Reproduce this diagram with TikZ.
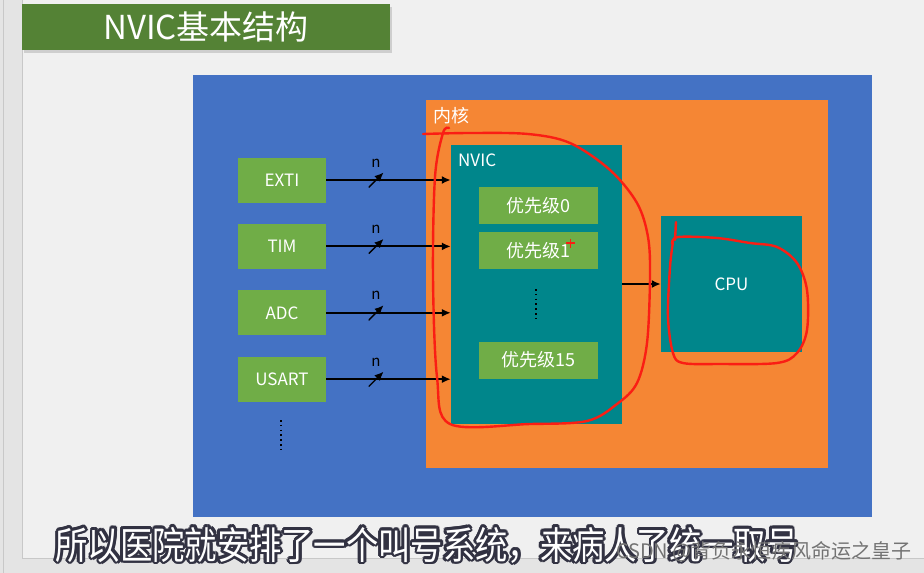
\documentclass[tikz,border=0pt]{standalone}
\usepackage{fontspec}
\setmainfont{Noto Sans CJK SC}
\newfontfamily\subfont[FakeStretch=0.85]{Noto Sans CJK SC}
\usetikzlibrary{arrows.meta,positioning,calc,shadows}
\definecolor{Sside}{RGB}{228,228,228}
\definecolor{Sslide}{RGB}{240,240,240}
\definecolor{Sedge}{RGB}{200,200,200}
\definecolor{Stitle}{RGB}{84,130,53}
\definecolor{Sblue}{RGB}{68,114,196}
\definecolor{Sorange}{RGB}{245,134,52}
\definecolor{Steal}{RGB}{0,134,139}
\definecolor{Sgreen}{RGB}{112,173,71}
\definecolor{Sink}{RGB}{50,50,66}
\definecolor{Pen}{RGB}{250,30,20}
\tikzset{
  panel/.style={draw=none, inner sep=0pt},
  srcbox/.style={panel, fill=Sgreen, text=white, minimum width=88pt, minimum height=45pt, font=\fontsize{17}{20}\selectfont},
  priobox/.style={panel, fill=Sgreen, text=white, minimum width=119pt, minimum height=37pt, font=\fontsize{18}{21}\selectfont},
  lbl/.style={text=white, inner sep=0pt, font=\fontsize{17}{20}\selectfont},
  sig/.style={-{Latex[length=9pt,width=8pt]}, line width=2pt, draw=black},
  slashmark/.style={minimum width=15pt, minimum height=15pt, inner sep=0pt,
    path picture={\draw[line width=1.4pt] (path picture bounding box.south west) -- (path picture bounding box.north east);}},
  busn/.style={inner sep=0pt, font=\fontsize{15}{17}\selectfont},
  vdots/.style={line width=1.6pt, dash pattern=on 1.6pt off 3.2pt},
  redpen/.style={draw=Pen, line width=2.4pt, line cap=round, line join=round},
  subline/.style={inner sep=0pt, font=\subfont\fontsize{38}{42}\selectfont}
}
\begin{document}
\begin{tikzpicture}[x=1pt,y=-1pt]
  \useasboundingbox (0,0) rectangle (924,573);
  % window
  \fill[Sside] (0,0) rectangle (924,573);
  \fill[Sslide] (22,0) rectangle (924,558);
  \draw[Sedge, line width=0.8pt] (22,0) -- (22,558) -- (924,558);
  \draw[Sedge, line width=0.6pt] (3,0) -- (3,573);

  \node[panel, fill=Stitle, text=white, minimum width=368pt, minimum height=46pt,
    drop shadow={shadow xshift=1.5pt, shadow yshift=-2.5pt, opacity=0.3},
    font=\fontsize{33}{36}\selectfont] (title) at (206,27) {NVIC基本结构};

  % containers
  \node[panel, fill=Sblue, minimum width=679pt, minimum height=442pt] (board) at (532.5,296) {};
  \node[panel, fill=Sorange, minimum width=402pt, minimum height=368pt] (core) at (627,284) {};
  \node[lbl, anchor=west, font=\fontsize{18}{21}\selectfont] (corelbl) at (433,116) {内核};
  \node[panel, fill=Steal, minimum width=171pt, minimum height=279pt] (nvic) at (536.5,284.5) {};
  \node[lbl, anchor=west] (nviclbl) at (458,160) {NVIC};
  \node[panel, fill=Steal, text=white, minimum width=141pt, minimum height=136pt,
    font=\fontsize{17}{20}\selectfont] (cpu) at (731.5,284) {CPU};

  % priorities
  \node[priobox] (p0) at (538.5,205.5) {优先级0};
  \node[priobox, below=8pt of p0] (p1) {优先级1};
  \node[priobox] (p15) at (538.5,360) {优先级15};
  \draw[vdots] (536,289) -- (536,322);

  % sources
  \node[srcbox] (exti) at (282,180) {EXTI};
  \node[srcbox, below=21pt of exti] (tim) {TIM};
  \node[srcbox, below=21pt of tim] (adc) {ADC};
  \node[srcbox, below=21pt of adc] (usart) {USART};
  \draw[vdots] (281,420) -- (281,451);

  \draw[sig] (exti) -- node[pos=0.4, slashmark]{} node[pos=0.4, busn, above=12pt]{n} (exti -| nvic.west);
  \draw[sig] (tim) -- node[pos=0.4, slashmark]{} node[pos=0.4, busn, above=12pt]{n} (tim -| nvic.west);
  \draw[sig] (adc) -- node[pos=0.4, slashmark]{} node[pos=0.4, busn, above=12pt]{n} (adc -| nvic.west);
  \draw[sig] (usart) -- node[pos=0.4, slashmark]{} node[pos=0.4, busn, above=12pt]{n} (usart -| nvic.west);
  \draw[sig] (nvic.east |- cpu.west) -- (cpu.west);

  % pen marks
  \draw[redpen] plot[smooth, tension=0.55] coordinates {(423,134) (470,133) (528,134) (570,143) (610,170) (637,203) (648,237) (650,277) (647,343) (637,383) (617,404) (587,421) (530,424) (450,424) (437,377) (433,277) (435,177) (443,133) (449,128)};
  \draw[redpen] (676,222) -- (675,240);
  \draw[redpen] plot[smooth, tension=0.55] coordinates {(672,244) (678,237) (717,238) (750,243) (777,247) (797,263) (807,290) (807,330) (797,353) (777,363) (720,364) (683,363) (673,353) (668,317) (670,267) (673,242)};
  \draw[draw=Pen, line width=1.5pt] (566,243) -- (575,243) (570.5,238.5) -- (570.5,247.5);

  % subtitle
  \coordinate (subpos) at (427,545);
  \foreach \a [count=\k] in {0,30,...,330}
    \node[subline, text=Sink] (sub\k) at ($(subpos)+(\a:2.8pt)$) {所以医院就安排了一个叫号系统，来病人了统一取号};
  \node[subline, text=white] (sub) at (subpos) {所以医院就安排了一个叫号系统，来病人了统一取号};
  \node[inner sep=0pt, anchor=east, text=black!55, font=\fontsize{20}{22}\selectfont] (mark) at (912,552) {CSDN @背负永恒疾风命运之皇子};
\end{tikzpicture}
\end{document}
